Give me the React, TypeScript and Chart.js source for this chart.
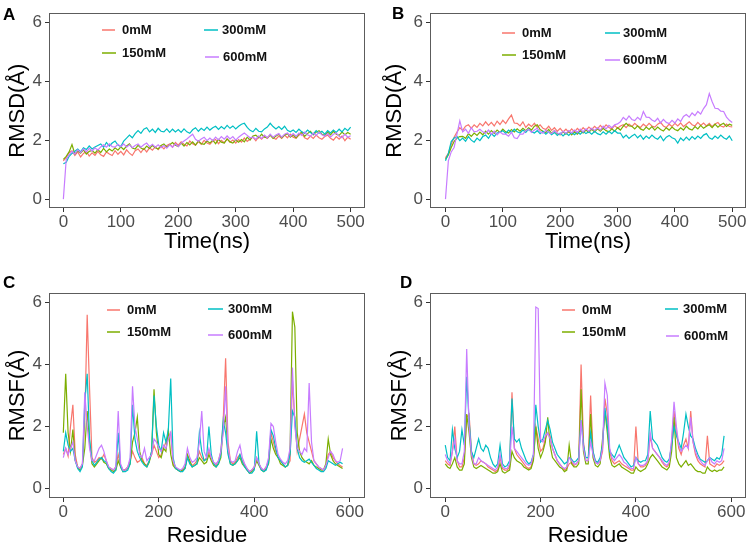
import React, { useEffect, useRef } from 'react';
import { Chart, registerables } from 'chart.js';

Chart.register(...registerables);

// ---------------- data ----------------
const SERIES_NAMES = ['0mM', '150mM', '300mM', '600mM'];
const SERIES_COLORS = ['#F8766D', '#7CAE00', '#00BFC4', '#C77CFF'];

const TIME_STEP = 5; // ns between samples
const RESIDUE_STEP = 5; // residues between samples
const TIME_TICKS = [0, 100, 200, 300, 400, 500];
const RESIDUE_TICKS = [0, 200, 400, 600];
const Y_TICKS = [0, 2, 4, 6];

// Panel A: RMSD vs time
const RMSD_A_0MM = [1.3,
  1.42, 1.58, 1.64, 1.48, 1.6, 1.43, 1.55, 1.62, 1.46, 1.57,
  1.48, 1.62, 1.5, 1.45, 1.6, 1.53, 1.48, 1.64, 1.52, 1.62,
  1.5, 1.67, 1.56, 1.48, 1.64, 1.7, 1.58, 1.72, 1.6, 1.74,
  1.66, 1.77, 1.68, 1.8, 1.7, 1.82, 1.87, 1.76, 1.92, 1.83,
  1.94, 1.86, 1.8, 1.97, 1.88, 1.83, 1.95, 1.86, 1.99, 1.9,
  1.86, 1.97, 2.02, 1.88, 1.99, 1.91, 2.04, 1.93, 2.0, 1.9,
  2.02, 1.93, 2.07, 1.96, 2.04, 2.1, 1.98, 2.12, 2.03, 2.14,
  2.06, 2.17, 2.08, 2.03, 2.14, 2.06, 2.17, 2.08, 2.2, 2.1,
  2.06, 2.17, 2.22, 2.08, 2.03, 2.14, 2.06, 2.17, 2.08, 2.03,
  2.12, 2.17, 2.06, 2.0, 2.12, 2.03, 2.14, 1.98, 2.1, 2.03];
const RMSD_A_150MM = [1.35,
  1.45, 1.6, 1.85, 1.53, 1.64, 1.56, 1.67, 1.53, 1.62, 1.65,
  1.56, 1.68, 1.58, 1.72, 1.6, 1.7, 1.63, 1.74, 1.66, 1.77,
  1.68, 1.8, 1.87, 1.73, 1.7, 1.82, 1.73, 1.68, 1.8, 1.72,
  1.82, 1.74, 1.7, 1.82, 1.87, 1.76, 1.84, 1.92, 1.83, 1.78,
  1.9, 1.8, 1.92, 1.84, 1.94, 1.83, 1.97, 1.88, 1.86, 1.97,
  1.9, 2.0, 1.88, 2.02, 1.93, 1.9, 2.04, 1.94, 1.9, 2.0,
  1.93, 2.02, 1.94, 2.1, 2.0, 2.14, 2.17, 2.08, 2.2, 2.1,
  2.08, 2.17, 2.06, 2.14, 2.2, 2.08, 2.17, 2.22, 2.1, 2.18,
  2.08, 2.2, 2.27, 2.13, 2.22, 2.3, 2.18, 2.27, 2.32, 2.2,
  2.16, 2.27, 2.18, 2.3, 2.2, 2.16, 2.27, 2.18, 2.26, 2.2];
const RMSD_A_300MM = [1.2,
  1.25, 1.45, 1.55, 1.62, 1.7, 1.6, 1.74, 1.68, 1.8, 1.7,
  1.77, 1.82, 1.87, 1.76, 1.92, 1.8, 1.9, 1.97, 1.83, 1.78,
  1.97, 2.07, 2.17, 2.08, 2.22, 2.32, 2.23, 2.37, 2.42, 2.28,
  2.37, 2.26, 2.4, 2.3, 2.28, 2.38, 2.26, 2.37, 2.28, 2.36,
  2.26, 2.38, 2.28, 2.23, 2.35, 2.42, 2.3, 2.4, 2.33, 2.44,
  2.34, 2.42, 2.47, 2.36, 2.46, 2.38, 2.5, 2.4, 2.48, 2.38,
  2.47, 2.54, 2.57, 2.43, 2.33, 2.28, 2.4, 2.3, 2.28, 2.38,
  2.44, 2.57, 2.46, 2.38, 2.46, 2.36, 2.47, 2.33, 2.28, 2.34,
  2.26, 2.37, 2.28, 2.23, 2.34, 2.26, 2.2, 2.32, 2.23, 2.3,
  2.2, 2.32, 2.24, 2.34, 2.26, 2.37, 2.28, 2.4, 2.32, 2.44];
const RMSD_A_600MM = [0,
  1.35, 1.5, 1.62, 1.53, 1.67, 1.58, 1.7, 1.6, 1.72, 1.63,
  1.74, 1.66, 1.77, 1.84, 1.76, 1.87, 1.78, 1.76, 1.86, 1.78,
  1.87, 1.76, 1.84, 1.74, 1.82, 1.87, 1.76, 1.84, 1.9, 1.78,
  1.86, 1.76, 1.84, 1.74, 1.82, 1.73, 1.84, 1.76, 1.87, 1.78,
  1.9, 1.97, 2.04, 2.12, 2.2, 2.03, 1.96, 2.04, 2.1, 1.98,
  2.07, 1.98, 2.1, 2.01, 2.12, 2.03, 2.14, 2.04, 2.12, 2.0,
  2.1, 2.17, 2.24, 2.16, 2.08, 2.1, 2.03, 2.14, 2.06, 2.17,
  2.08, 2.2, 2.1, 2.17, 2.22, 2.1, 2.2, 2.24, 2.13, 2.22,
  2.13, 2.24, 2.16, 2.27, 2.18, 2.13, 2.24, 2.16, 2.27, 2.18,
  2.13, 2.22, 2.1, 2.2, 2.24, 2.13, 2.08, 2.2, 2.1, 2.15];

// Panel B: RMSD vs time
const RMSD_B_0MM = [1.4,
  1.55, 1.85, 2.1, 2.27, 2.42, 2.33, 2.47, 2.52, 2.4, 2.52,
  2.43, 2.57, 2.48, 2.62, 2.5, 2.6, 2.48, 2.64, 2.53, 2.67,
  2.56, 2.72, 2.85, 2.58, 2.57, 2.48, 2.62, 2.43, 2.54, 2.46,
  2.57, 2.43, 2.52, 2.4, 2.36, 2.47, 2.33, 2.42, 2.3, 2.4,
  2.28, 2.37, 2.26, 2.38, 2.28, 2.4, 2.3, 2.42, 2.33, 2.44,
  2.36, 2.47, 2.38, 2.5, 2.4, 2.52, 2.43, 2.38, 2.5, 2.4,
  2.48, 2.52, 2.42, 2.54, 2.46, 2.57, 2.48, 2.43, 2.54, 2.46,
  2.57, 2.48, 2.44, 2.54, 2.6, 2.48, 2.43, 2.54, 2.46, 2.57,
  2.48, 2.58, 2.46, 2.54, 2.62, 2.52, 2.48, 2.6, 2.5, 2.58,
  2.48, 2.57, 2.46, 2.55, 2.6, 2.48, 2.44, 2.54, 2.46, 2.45];
const RMSD_B_150MM = [1.35,
  1.5, 1.75, 1.95, 2.07, 2.12, 2.13, 2.06, 2.22, 2.13, 2.24,
  2.16, 2.27, 2.18, 2.3, 2.2, 2.32, 2.23, 2.34, 2.26, 2.37,
  2.28, 2.24, 2.36, 2.28, 2.38, 2.3, 2.4, 2.32, 2.42, 2.34,
  2.47, 2.52, 2.36, 2.3, 2.26, 2.36, 2.23, 2.32, 2.22, 2.18,
  2.28, 2.2, 2.3, 2.18, 2.27, 2.2, 2.32, 2.24, 2.34, 2.26,
  2.37, 2.28, 2.38, 2.3, 2.4, 2.32, 2.28, 2.38, 2.3, 2.42,
  2.34, 2.47, 2.57, 2.48, 2.47, 2.38, 2.48, 2.38, 2.33, 2.44,
  2.36, 2.46, 2.34, 2.44, 2.36, 2.31, 2.42, 2.34, 2.44, 2.36,
  2.32, 2.42, 2.34, 2.47, 2.38, 2.34, 2.46, 2.38, 2.5, 2.4,
  2.47, 2.52, 2.42, 2.54, 2.44, 2.52, 2.57, 2.46, 2.54, 2.5];
const RMSD_B_300MM = [1.3,
  1.55, 1.95, 2.07, 2.12, 1.98, 2.07, 1.96, 2.12, 2.0, 1.93,
  2.07, 1.98, 2.12, 2.17, 2.06, 2.22, 2.13, 2.24, 2.27, 2.32,
  2.23, 2.34, 2.26, 2.37, 2.28, 2.24, 2.34, 2.26, 2.37, 2.28,
  2.24, 2.32, 2.22, 2.3, 2.2, 2.28, 2.18, 2.26, 2.16, 2.24,
  2.14, 2.24, 2.16, 2.26, 2.18, 2.27, 2.2, 2.3, 2.22, 2.28,
  2.2, 2.3, 2.22, 2.18, 2.28, 2.2, 2.3, 2.22, 2.32, 2.24,
  2.24, 2.08, 2.17, 2.06, 2.14, 2.2, 2.08, 2.17, 2.03, 2.14,
  2.06, 2.17, 2.08, 2.03, 2.14, 1.98, 2.1, 2.16, 2.08, 2.04,
  1.9, 2.07, 1.98, 2.1, 2.0, 2.12, 2.03, 2.14, 2.06, 2.17,
  2.22, 2.08, 2.03, 2.14, 2.06, 2.17, 2.08, 2.03, 2.14, 1.98];
const RMSD_B_600MM = [0,
  1.3, 1.6, 1.75, 2.2, 2.65, 2.28, 2.37, 2.23, 2.42, 2.28,
  2.3, 2.37, 2.28, 2.23, 2.34, 2.2, 2.3, 2.18, 2.28, 2.2,
  2.2, 2.13, 2.27, 2.08, 2.05, 2.2, 2.2, 2.32, 2.37, 2.26,
  2.34, 2.4, 2.28, 2.23, 2.34, 2.26, 2.22, 2.32, 2.24, 2.2,
  2.3, 2.23, 2.32, 2.24, 2.34, 2.26, 2.37, 2.28, 2.38, 2.3,
  2.4, 2.33, 2.42, 2.34, 2.47, 2.38, 2.5, 2.42, 2.52, 2.55,
  2.62, 2.77, 2.68, 2.82, 2.7, 2.66, 2.77, 2.68, 2.97, 2.78,
  2.77, 2.68, 2.63, 2.74, 2.58, 2.7, 2.6, 2.56, 2.67, 2.58,
  2.72, 2.63, 2.8, 2.87, 2.78, 2.92, 2.83, 2.97, 2.88, 3.07,
  3.2, 3.58, 3.3, 3.08, 3.07, 2.98, 2.97, 2.78, 2.67, 2.6];

// Panel C: RMSF vs residue
const RMSF_C_0MM = [
  1.1, 1.3, 1.05, 2.0, 2.7, 1.1, 0.7, 0.65, 0.8, 2.2,
  5.6, 3.2, 1.0, 0.85, 0.9, 1.0, 0.95, 1.1, 0.9, 0.7,
  0.65, 0.6, 0.7, 1.1, 0.75, 0.6, 0.62, 0.7, 0.9, 1.2,
  1.0, 0.85, 0.9, 1.0, 0.8, 0.75, 0.9, 1.1, 1.4, 1.2,
  1.0, 1.1, 1.3, 1.5, 1.6, 1.8, 0.8, 0.7, 0.6, 0.55,
  0.6, 0.7, 1.0, 0.85, 0.75, 0.8, 0.9, 1.2, 1.0, 0.9,
  1.0, 1.2, 1.0, 0.8, 0.75, 0.9, 1.2, 2.2, 4.2, 1.5,
  0.9, 0.8, 0.85, 1.0, 1.1, 0.9, 0.75, 0.65, 0.55, 0.6,
  0.7, 1.0, 0.8, 0.65, 0.6, 0.7, 0.9, 1.8, 1.5, 1.2,
  1.0, 0.9, 0.8, 0.7, 0.75, 0.9, 3.5, 2.2, 1.2, 1.6,
  2.0, 2.4, 1.8, 1.5, 1.2, 0.9, 0.8, 0.7, 0.65, 0.6,
  0.7, 1.1, 1.2, 1.0, 0.9, 0.8, 0.75, 0.7];
const RMSF_C_150MM = [
  1.8, 3.7, 1.8, 1.2, 1.9, 0.9, 0.7, 0.6, 0.75, 1.3,
  2.5, 1.5, 0.8, 0.7, 0.8, 0.9, 1.0, 0.85, 0.8, 0.65,
  0.6, 0.55, 0.6, 0.9, 0.7, 0.55, 0.6, 0.65, 0.8, 1.5,
  1.8, 2.3, 1.2, 0.9, 0.8, 0.7, 0.85, 1.2, 3.2, 1.8,
  1.1, 1.0, 1.3, 1.2, 1.9, 1.1, 0.75, 0.65, 0.6, 0.55,
  0.6, 0.65, 1.1, 0.9, 0.7, 0.75, 0.8, 1.0, 0.9, 0.8,
  0.85, 1.1, 0.9, 0.75, 0.7, 0.8, 1.0, 2.0, 2.3, 1.2,
  0.8, 0.75, 0.8, 0.9, 1.0, 0.8, 0.7, 0.6, 0.5, 0.55,
  0.65, 0.9, 0.75, 0.6, 0.55, 0.65, 0.8, 1.6, 1.3, 1.1,
  1.0, 0.8, 0.75, 0.7, 0.75, 1.2, 5.7, 5.2, 1.8, 1.2,
  1.0, 0.9, 0.85, 0.8, 0.9, 0.75, 0.7, 0.65, 0.6, 0.6,
  0.8, 1.6, 1.1, 0.9, 0.8, 0.75, 0.7, 0.65];
const RMSF_C_300MM = [
  1.2, 1.8, 1.4, 1.2, 1.3, 0.9, 0.65, 0.55, 0.7, 2.8,
  3.7, 1.6, 0.9, 0.75, 0.85, 0.95, 1.0, 0.9, 0.85, 0.65,
  0.55, 0.5, 0.6, 1.8, 0.7, 0.55, 0.55, 0.6, 0.8, 2.7,
  1.6, 1.2, 1.0, 0.85, 0.75, 0.7, 0.9, 1.2, 3.0, 2.0,
  1.4, 1.2, 1.8, 1.5, 1.9, 3.55, 1.0, 0.65, 0.6, 0.55,
  0.55, 0.65, 1.0, 0.8, 0.7, 0.75, 0.8, 1.8, 1.2, 0.9,
  0.95, 2.0, 1.1, 0.8, 0.7, 0.8, 1.1, 2.2, 1.8, 1.1,
  0.8, 0.75, 0.8, 0.9, 1.1, 0.85, 0.7, 0.6, 0.5, 0.5,
  0.6, 1.85, 0.8, 0.6, 0.55, 0.6, 0.85, 1.9, 1.7, 1.3,
  1.0, 0.9, 0.8, 0.7, 0.75, 1.1, 2.5, 2.3, 1.3, 1.0,
  0.9, 0.85, 0.9, 0.95, 0.85, 0.75, 0.65, 0.6, 0.55, 0.55,
  0.65, 0.9, 0.85, 0.8, 0.75, 0.8, 0.85, 0.8];
const RMSF_C_600MM = [
  1.0, 1.3, 1.1, 1.3, 1.5, 0.9, 0.7, 0.65, 0.8, 3.1,
  2.0, 1.3, 0.9, 0.9, 1.1, 1.3, 1.4, 1.2, 0.9, 0.7,
  0.65, 0.6, 0.7, 2.5, 0.8, 0.6, 0.6, 0.7, 1.0, 3.3,
  2.0, 1.6, 1.1, 1.0, 1.3, 0.9, 1.0, 1.1, 1.6, 1.5,
  1.3, 1.2, 1.4, 1.3, 1.6, 1.8, 0.9, 0.7, 0.65, 0.6,
  0.65, 0.8, 1.3, 1.0, 0.85, 0.9, 1.0, 1.5, 2.5, 1.2,
  1.0, 1.3, 1.0, 0.85, 0.8, 0.9, 1.2, 1.8, 3.3, 1.3,
  0.9, 0.85, 0.9, 1.2, 1.4, 1.0, 0.8, 0.65, 0.55, 0.6,
  0.7, 1.0, 0.8, 0.65, 0.6, 0.7, 1.0, 2.1, 2.0, 1.5,
  1.1, 0.95, 0.85, 0.8, 0.9, 1.3, 3.9, 2.0, 1.3, 1.2,
  1.1, 1.3, 1.2, 3.4, 1.5, 0.9, 0.8, 0.7, 0.65, 0.6,
  0.75, 1.0, 1.2, 1.1, 0.9, 0.85, 0.9, 1.3];

// Panel D: RMSF vs residue
const RMSF_D_0MM = [
  0.9, 0.8, 0.75, 1.2, 2.0, 0.9, 0.7, 0.7, 1.0, 2.3,
  2.4, 1.2, 0.8, 0.75, 0.8, 0.9, 0.85, 0.8, 0.7, 0.65,
  0.6, 0.55, 0.6, 1.0, 0.65, 0.6, 0.6, 0.7, 3.1, 1.3,
  1.1, 1.0, 0.9, 0.8, 0.7, 0.65, 0.7, 1.0, 2.0, 1.6,
  1.2, 1.3, 1.6, 1.8, 1.7, 1.3, 1.1, 0.9, 0.8, 0.7,
  0.6, 0.65, 0.8, 0.85, 0.75, 0.8, 0.9, 4.0, 1.5, 0.9,
  0.9, 3.0, 1.2, 0.85, 0.8, 0.9, 1.2, 2.9, 2.4, 1.2,
  0.9, 0.8, 0.85, 0.9, 0.8, 0.75, 0.7, 0.65, 0.6, 0.6,
  2.0, 0.8, 0.7, 0.7, 0.75, 0.9, 1.7, 1.3, 1.2, 1.1,
  1.0, 0.85, 0.75, 0.7, 0.8, 1.5, 2.5, 1.8, 1.3, 1.1,
  1.4, 1.6, 1.3, 2.5, 1.5, 1.1, 0.9, 0.8, 0.75, 0.7,
  1.7, 0.8, 0.75, 0.7, 0.8, 0.75, 0.8, 0.9];
const RMSF_D_150MM = [
  0.8, 0.7, 0.65, 0.8, 1.0, 0.7, 0.6, 0.6, 0.8, 2.4,
  1.8, 1.0, 0.7, 0.65, 0.7, 0.75, 0.7, 0.65, 0.6, 0.55,
  0.5, 0.5, 0.55, 0.8, 0.55, 0.5, 0.55, 0.6, 1.2, 1.0,
  0.9, 0.85, 0.8, 0.7, 0.65, 0.6, 0.65, 0.9, 2.0, 1.3,
  1.0, 1.2, 1.5, 2.3, 1.4, 1.0, 0.9, 0.8, 0.7, 0.65,
  0.55, 0.6, 1.4, 0.8, 0.7, 0.7, 0.8, 3.2, 1.2, 0.8,
  0.8, 2.4, 1.0, 0.75, 0.7, 0.8, 1.6, 2.5, 1.8, 1.0,
  0.75, 0.7, 0.75, 0.8, 0.7, 0.65, 0.6, 0.55, 0.5, 0.5,
  0.7, 0.6, 0.55, 0.6, 0.65, 0.8, 1.0, 1.1, 1.0, 0.9,
  0.8, 0.7, 0.65, 0.6, 0.7, 1.2, 2.3, 1.0, 0.8, 0.7,
  0.8, 0.9, 0.75, 0.8, 0.7, 0.6, 0.55, 0.55, 0.5, 0.5,
  0.7, 0.6, 0.55, 0.6, 0.55, 0.6, 0.6, 0.7];
const RMSF_D_300MM = [
  1.4, 1.0, 0.9, 1.9, 1.3, 1.0, 1.2, 1.9, 1.4, 3.6,
  2.2, 1.2, 1.0, 1.3, 1.6, 1.3, 1.2, 1.4, 1.3, 1.0,
  0.8, 0.7, 0.8, 1.4, 0.8, 0.7, 0.75, 0.9, 2.9, 1.6,
  1.5, 1.6, 1.3, 1.1, 0.9, 0.8, 0.85, 1.1, 2.7, 2.0,
  1.5, 1.6, 1.9, 2.2, 1.9, 1.5, 1.3, 1.1, 1.0, 0.9,
  0.8, 0.85, 1.0, 0.95, 0.85, 0.9, 1.0, 2.2, 1.4, 1.0,
  1.0, 1.8, 1.2, 0.9, 0.85, 1.0, 1.4, 2.6, 2.0, 1.2,
  1.1, 1.0, 1.2, 1.4, 1.2, 1.0, 0.9, 0.8, 0.7, 0.75,
  1.0, 0.9, 0.85, 0.9, 0.9, 1.1, 2.5, 1.6, 1.5, 1.4,
  1.2, 1.0, 0.9, 0.85, 0.95, 1.4, 2.0, 1.7, 1.5, 1.3,
  1.8, 2.4, 2.0, 1.7, 1.6, 1.3, 1.1, 0.95, 0.9, 0.85,
  0.9, 1.0, 0.95, 0.9, 1.0, 0.95, 1.1, 1.7];
const RMSF_D_600MM = [
  1.1, 0.9, 0.8, 1.2, 1.6, 0.9, 0.8, 0.8, 1.2, 4.5,
  2.0, 1.1, 0.8, 0.8, 1.0, 0.9, 0.85, 0.8, 0.75, 0.7,
  0.65, 0.6, 0.7, 1.1, 0.7, 0.65, 0.65, 0.8, 2.0, 1.3,
  1.2, 1.1, 1.0, 0.9, 0.8, 0.75, 0.8, 1.1, 5.85, 5.8,
  1.6, 1.5, 1.7, 1.8, 1.6, 1.3, 1.1, 0.9, 0.8, 0.7,
  0.65, 0.7, 1.0, 0.9, 0.8, 0.8, 0.9, 2.2, 1.3, 0.9,
  0.9, 1.5, 1.1, 0.85, 0.8, 0.9, 1.3, 3.4, 3.0, 1.3,
  1.0, 0.9, 1.0, 1.1, 1.0, 0.85, 0.8, 0.7, 0.65, 0.65,
  1.0, 0.8, 0.75, 0.75, 0.8, 0.9, 1.8, 1.3, 1.2, 1.1,
  1.0, 0.9, 0.8, 0.75, 0.85, 1.6, 2.8, 2.0, 1.4, 1.2,
  1.3, 1.4, 1.3, 2.3, 1.5, 1.2, 1.0, 0.9, 0.8, 0.75,
  0.9, 1.0, 0.85, 0.8, 0.9, 0.85, 0.9, 1.3];

// ---------------- layout / styling ----------------
const FONT = '"Liberation Sans", Arial, Helvetica, sans-serif';

type LegendPos = { x1: number; x2: number; y: number; tx: number; ty: number };
type PanelSpec = {
  id: string;
  letter: string;
  left: number; top: number; width: number; height: number;
  area: { left: number; top: number; right: number; bottom: number };
  xMin: number; xMax: number; xTicks: number[]; step: number;
  xTitle: string; yTitle: string;
  xTitlePad: number; yTitlePad: number;
  letterX: number; letterY: number;
  legend: LegendPos[]; // order as SERIES_NAMES
  series: number[][];  // order as SERIES_NAMES
};

const PANELS: PanelSpec[] = [
  {
    id: 'A', letter: 'A', left: 0, top: 0, width: 374, height: 270,
    area: { left: 49, top: 3, right: 365, bottom: 208 },
    xMin: -25, xMax: 525, xTicks: TIME_TICKS, step: TIME_STEP,
    xTitle: 'Time(ns)', yTitle: 'RMSD(Å)', xTitlePad: 14.5, yTitlePad: 4.3,
    letterX: 3, letterY: 20,
    legend: [
      { x1: 102, x2: 115, y: 30, tx: 122, ty: 30 },
      { x1: 102, x2: 116, y: 53, tx: 122, ty: 53 },
      { x1: 204, x2: 218, y: 30, tx: 222, ty: 30 },
      { x1: 205, x2: 219, y: 57, tx: 223, ty: 57 },
    ],
    series: [RMSD_A_0MM, RMSD_A_150MM, RMSD_A_300MM, RMSD_A_600MM],
  },
  {
    id: 'B', letter: 'B', left: 374, top: 0, width: 375, height: 270,
    area: { left: 56, top: 3, right: 372, bottom: 208 },
    xMin: -27, xMax: 524, xTicks: TIME_TICKS, step: TIME_STEP,
    xTitle: 'Time(ns)', yTitle: 'RMSD(Å)', xTitlePad: 14.5, yTitlePad: 7.8,
    letterX: 18, letterY: 19,
    legend: [
      { x1: 128, x2: 141, y: 33, tx: 148, ty: 33 },
      { x1: 128, x2: 142, y: 55, tx: 148, ty: 55 },
      { x1: 231, x2: 246, y: 33, tx: 249, ty: 33 },
      { x1: 231, x2: 246, y: 60, tx: 249, ty: 60 },
    ],
    series: [RMSD_B_0MM, RMSD_B_150MM, RMSD_B_300MM, RMSD_B_600MM],
  },
  {
    id: 'C', letter: 'C', left: 0, top: 270, width: 374, height: 285,
    area: { left: 49, top: 23, right: 365, bottom: 228 },
    xMin: -30, xMax: 632, xTicks: RESIDUE_TICKS, step: RESIDUE_STEP,
    xTitle: 'Residue', yTitle: 'RMSF(Å)', xTitlePad: 5.8, yTitlePad: 4.8,
    letterX: 3, letterY: 18,
    legend: [
      { x1: 107, x2: 120, y: 40, tx: 127, ty: 40 },
      { x1: 107, x2: 120, y: 62, tx: 127, ty: 62 },
      { x1: 208, x2: 223, y: 39, tx: 228, ty: 39 },
      { x1: 208, x2: 223, y: 65, tx: 228, ty: 65 },
    ],
    series: [RMSF_C_0MM, RMSF_C_150MM, RMSF_C_300MM, RMSF_C_600MM],
  },
  {
    id: 'D', letter: 'D', left: 374, top: 270, width: 375, height: 285,
    area: { left: 56, top: 23, right: 372, bottom: 228 },
    xMin: -32, xMax: 631, xTicks: RESIDUE_TICKS, step: RESIDUE_STEP,
    xTitle: 'Residue', yTitle: 'RMSF(Å)', xTitlePad: 5.8, yTitlePad: 12.8,
    letterX: 26, letterY: 18,
    legend: [
      { x1: 188, x2: 201, y: 40, tx: 208, ty: 40 },
      { x1: 188, x2: 201, y: 62, tx: 208, ty: 62 },
      { x1: 291, x2: 304, y: 39, tx: 309, ty: 39 },
      { x1: 292, x2: 305, y: 66, tx: 310, ty: 66 },
    ],
    series: [RMSF_D_0MM, RMSF_D_150MM, RMSF_D_300MM, RMSF_D_600MM],
  },
];

function makeDecorPlugin(spec: PanelSpec) {
  return {
    id: 'panelDecor' + spec.id,
    afterDraw(chart: any) {
      const { ctx, chartArea: a } = chart;
      ctx.save();
      // panel border
      ctx.strokeStyle = '#5c5c5c';
      ctx.lineWidth = 1;
      const l = Math.round(a.left) + 0.5;
      const t = Math.round(a.top) + 0.5;
      const r = Math.round(a.right) - 0.5;
      const b = Math.round(a.bottom) - 0.5;
      ctx.strokeRect(l, t, r - l, b - t);
      // panel letter
      ctx.fillStyle = '#000';
      ctx.textAlign = 'left';
      ctx.textBaseline = 'alphabetic';
      ctx.font = `bold 17px ${FONT}`;
      ctx.fillText(spec.letter, spec.letterX, spec.letterY);
      // legend
      ctx.font = `bold 13px ${FONT}`;
      ctx.textBaseline = 'middle';
      spec.legend.forEach((p, k) => {
        ctx.strokeStyle = SERIES_COLORS[k];
        ctx.lineWidth = 1.5;
        ctx.beginPath();
        ctx.moveTo(p.x1, p.y);
        ctx.lineTo(p.x2, p.y);
        ctx.stroke();
        ctx.fillStyle = '#111';
        ctx.fillText(SERIES_NAMES[k], p.tx, p.ty);
      });
      ctx.restore();
    },
  };
}

function buildConfig(spec: PanelSpec): any {
  // draw 600mM on top (dataset index 0 is painted last)
  const drawOrder = [3, 2, 1, 0];
  const datasets = drawOrder.map((k) => ({
    label: SERIES_NAMES[k],
    data: spec.series[k].map((y, i) => ({ x: i * spec.step, y })),
    borderColor: SERIES_COLORS[k],
    backgroundColor: SERIES_COLORS[k],
    borderWidth: 1.2,
    pointRadius: 0,
    fill: false,
    tension: 0,
  }));
  const xAxisHeight = spec.height - spec.area.bottom;
  const yAxisWidth = spec.area.left;
  return {
    type: 'line',
    data: { datasets },
    plugins: [makeDecorPlugin(spec)],
    options: {
      animation: false,
      responsive: false,
      maintainAspectRatio: false,
      devicePixelRatio: 1,
      events: [],
      layout: {
        padding: { top: spec.area.top, right: spec.width - spec.area.right, left: 0, bottom: 0 },
      },
      plugins: {
        legend: { display: false },
        tooltip: { enabled: false },
        title: { display: false },
      },
      scales: {
        x: {
          type: 'linear',
          min: spec.xMin,
          max: spec.xMax,
          afterBuildTicks: (s: any) => { s.ticks = spec.xTicks.map((v) => ({ value: v })); },
          afterFit: (s: any) => { s.height = xAxisHeight; },
          ticks: {
            autoSkip: false, maxRotation: 0, minRotation: 0, padding: 0,
            color: '#4d4d4d', font: { family: FONT, size: 17 },
            callback: (v: any) => String(v),
          },
          grid: { drawOnChartArea: false, drawTicks: true, tickLength: 4, color: '#333', lineWidth: 1 },
          border: { display: false },
          title: {
            display: true, text: spec.xTitle, color: '#000',
            font: { family: FONT, size: 22 },
            padding: { top: 0, bottom: spec.xTitlePad },
          },
        },
        y: {
          type: 'linear',
          min: -0.3,
          max: 6.3,
          afterBuildTicks: (s: any) => { s.ticks = Y_TICKS.map((v) => ({ value: v })); },
          afterFit: (s: any) => { s.width = yAxisWidth; },
          ticks: {
            padding: 3, color: '#4d4d4d', font: { family: FONT, size: 17 },
            callback: (v: any) => String(v),
          },
          grid: { drawOnChartArea: false, drawTicks: true, tickLength: 4, color: '#333', lineWidth: 1 },
          border: { display: false },
          title: {
            display: true, text: spec.yTitle, color: '#000',
            font: { family: FONT, size: 22 },
            padding: { top: spec.yTitlePad, bottom: 0 },
          },
        },
      },
    },
  };
}

function Panel({ spec }: { spec: PanelSpec }) {
  const ref = useRef<HTMLCanvasElement | null>(null);
  useEffect(() => {
    if (!ref.current) return;
    const chart = new Chart(ref.current, buildConfig(spec));
    return () => chart.destroy();
  }, [spec]);
  return (
    <canvas
      ref={ref}
      width={spec.width}
      height={spec.height}
      style={{ position: 'absolute', left: spec.left, top: spec.top, width: spec.width, height: spec.height }}
    />
  );
}

export default function App() {
  return (
    <div
      style={{
        position: 'absolute', left: 0, top: 0, width: 749, height: 545,
        overflow: 'hidden', background: '#fff',
      }}
    >
      {PANELS.map((p) => (
        <Panel key={p.id} spec={p} />
      ))}
    </div>
  );
}
